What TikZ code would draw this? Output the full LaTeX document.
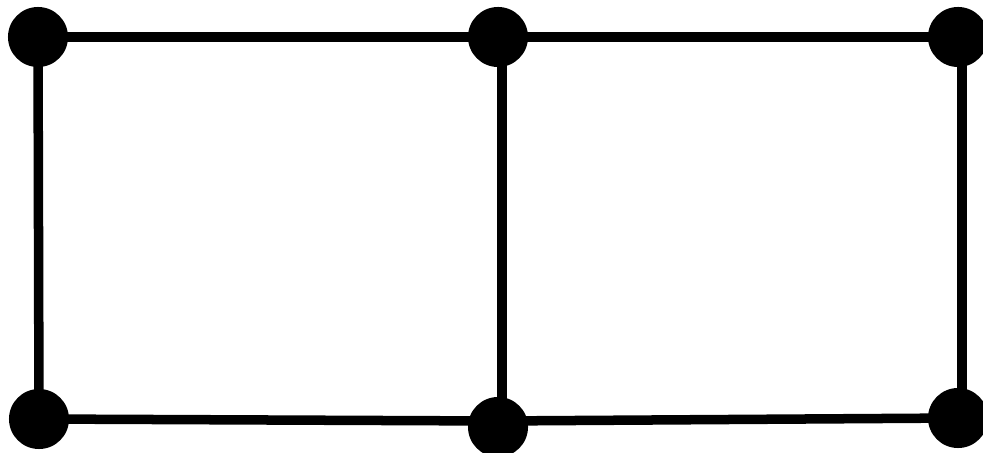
\documentclass[tikz,border=0pt]{standalone}
\usetikzlibrary{calc}
\begin{document}
\begin{tikzpicture}[x=0.01cm,y=-0.01cm,
  vtx/.style={circle,fill=black,inner sep=0pt,minimum size=0.6cm},
  edge/.style={line width=0.095cm}]
\useasboundingbox (0,0) rectangle (983,452);
\coordinate (a) at (38,37);
\coordinate (b) at (498,37);
\coordinate (c) at (958,37);
\coordinate (d) at (39,419);
\coordinate (e) at (498,427);
\coordinate (f) at (958,418);
\draw[edge] (a) -- (b) -- (c);
\draw[edge] (d) -- ($(e)+(0,-6)$) -- (f);
\draw[edge] (a) -- (d);
\draw[edge] ($(b)+(4,0)$) -- ($(e)+(4,0)$);
\draw[edge] ($(c)+(4,0)$) -- ($(f)+(4,0)$);
\foreach \v in {a,b,c,d,e,f} \node[vtx] (n\v) at (\v) {};
\end{tikzpicture}
\end{document}
